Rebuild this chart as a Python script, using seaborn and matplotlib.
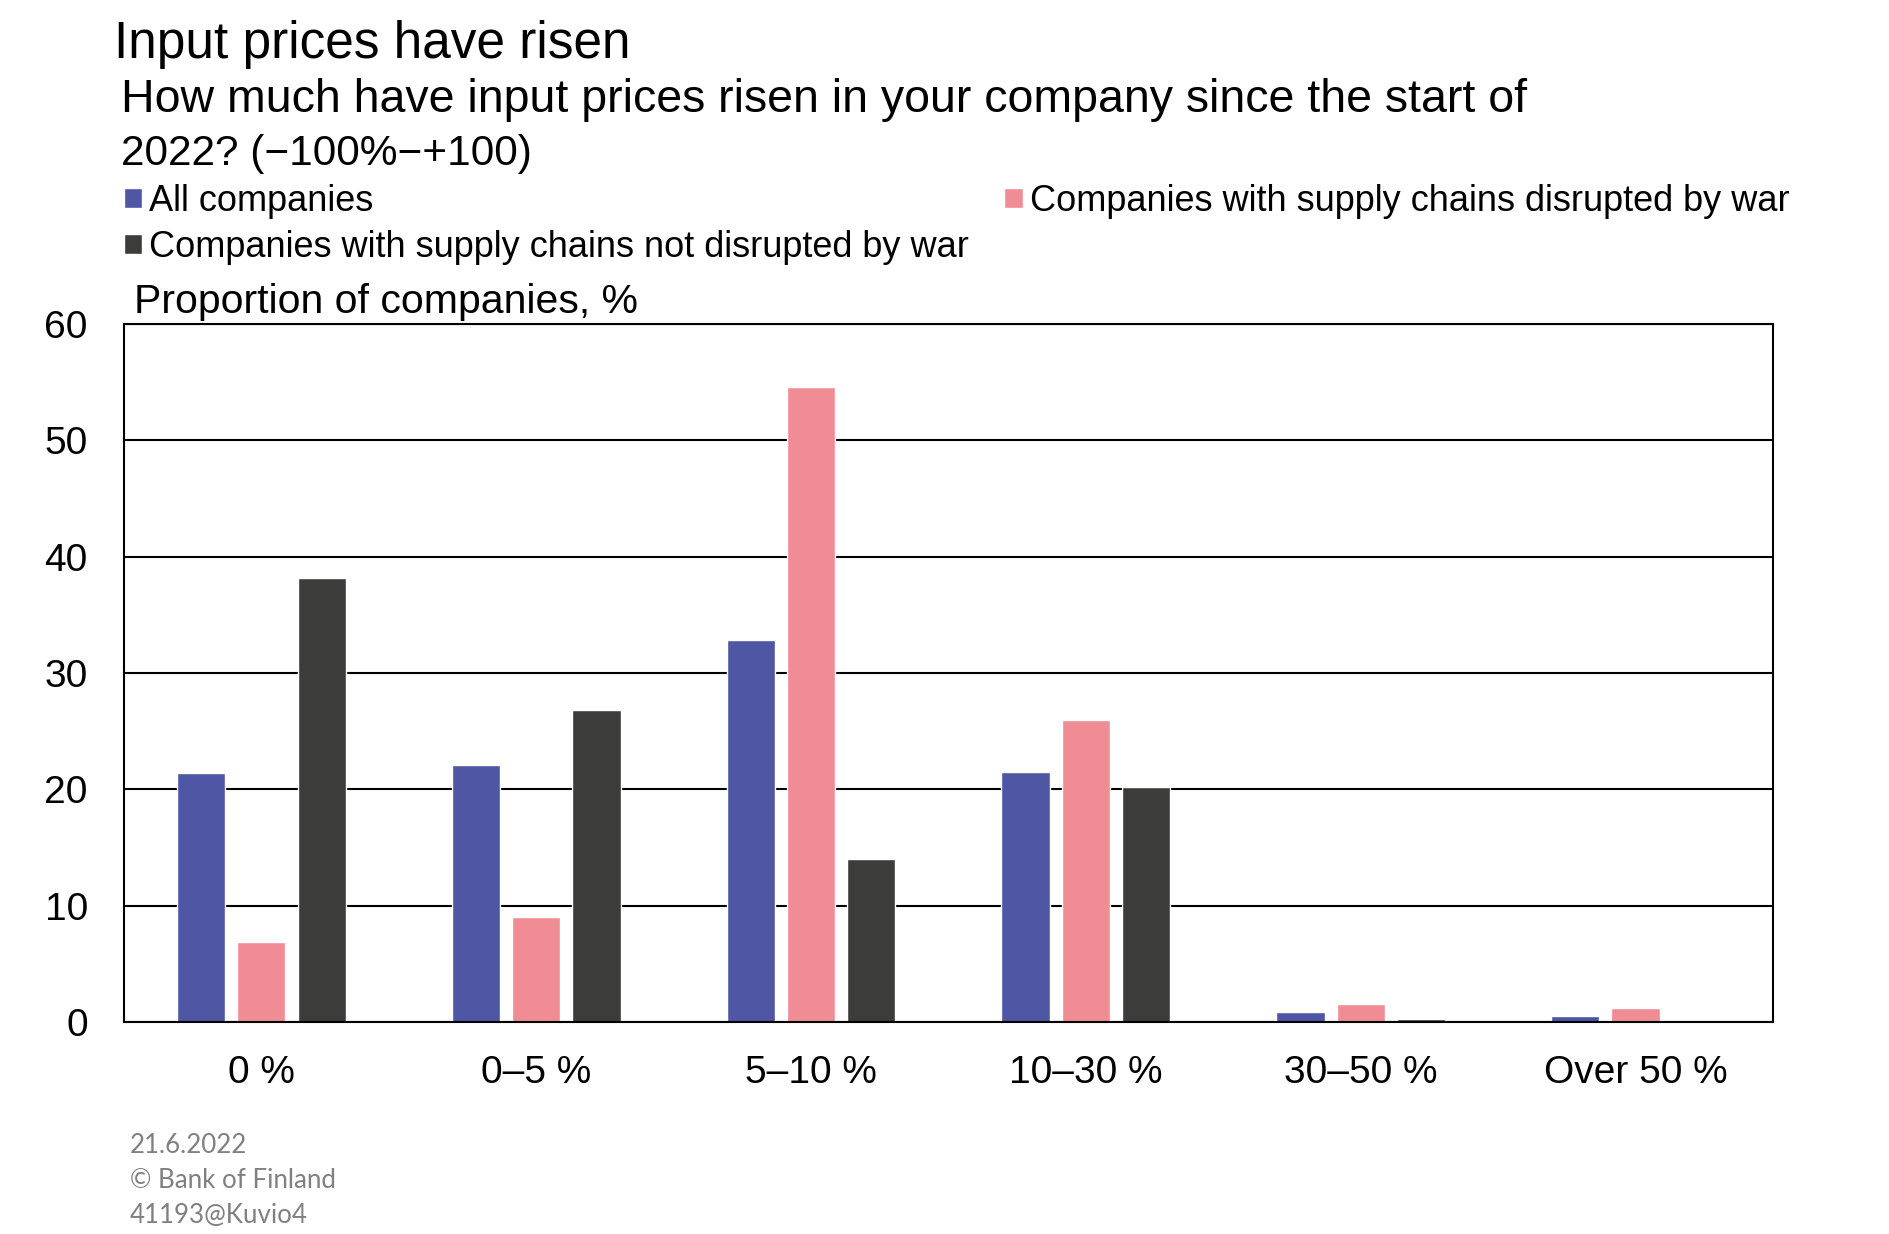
import pandas as pd
import matplotlib
matplotlib.use("Agg")
import matplotlib.pyplot as plt
import seaborn as sns

# values (proportion of companies, %)
categories = ["0 %", "0–5 %", "5–10 %", "10–30 %", "30–50 %", "Over 50 %"]
series_names = ["All companies",
                "Companies with supply chains disrupted by war",
                "Companies with supply chains not disrupted by war"]
all_companies = [21.4, 22.1, 32.8, 21.5, 0.9, 0.53]
disrupted = [6.9, 9.0, 54.6, 26.0, 1.56, 1.24]
not_disrupted = [38.2, 26.8, 14.0, 20.2, 0.29, 0.0]
colors = ["#4F56A4", "#F08C94", "#3C3C3B"]
yticks = [0, 10, 20, 30, 40, 50, 60]

df = pd.DataFrame({
    "category": categories * 3,
    "series": [s for s in series_names for _ in categories],
    "value": all_companies + disrupted + not_disrupted,
})

sns.set_style("white")
plt.rcParams["font.family"] = ["Liberation Sans", "DejaVu Sans"]
plt.rcParams["text.color"] = "black"

fig = plt.figure(figsize=(18.89, 12.34), dpi=100)
ax = fig.add_axes([0.0656, 0.1718, 0.873, 0.5656])

sns.barplot(data=df, x="category", y="value", hue="series", order=categories,
            hue_order=series_names, palette=colors, saturation=1,
            width=0.658, gap=0.2, ax=ax, legend=True)

ax.set_ylim(0, 60)
ax.set_yticks(yticks)
ax.set_xlim(-0.5, 5.5)
ax.set_xlabel("")
ax.set_ylabel("")
ax.yaxis.grid(True, color="black", linewidth=1.5)
ax.set_axisbelow(True)
for sp in ax.spines.values():
    sp.set_visible(True)
    sp.set_color("black")
    sp.set_linewidth(1.5)
ax.tick_params(axis="y", length=0, pad=26, labelsize=28, colors="black")
ax.tick_params(axis="x", length=0, pad=24, labelsize=28, colors="black")

# legend in two columns above the plot
handles, labels = ax.get_legend_handles_labels()
ax.get_legend().remove()
order = [0, 2, 1]
fig.legend([handles[i] for i in order], [labels[i] for i in order],
           loc="upper left", bbox_to_anchor=(0.0656, 0.851), ncol=2,
           frameon=False, fontsize=26, handlelength=0.5, handleheight=0.5,
           handletextpad=0.2, columnspacing=0.98, labelspacing=0.3,
           borderpad=0, borderaxespad=0)

fig.text(0.0603, 0.953, "Input prices have risen", fontsize=37, va="baseline")
fig.text(0.0640, 0.909, "How much have input prices risen in your company since the start of",
         fontsize=33.5, va="baseline")
fig.text(0.0640, 0.866, "2022? (−100%−+100)", fontsize=30.5, va="baseline")
fig.text(0.0709, 0.746, "Proportion of companies, %", fontsize=29.5, va="baseline")

footer = ["21.6.2022", "© Bank of Finland", "41193@Kuvio4"]
for i, line in enumerate(footer):
    fig.text(0.0688, 0.0656 - i * 0.0284, line, fontsize=18.6, color="#808080",
             family=["Lato", "DejaVu Sans"], va="baseline")

fig.savefig("out.png", dpi=100)
